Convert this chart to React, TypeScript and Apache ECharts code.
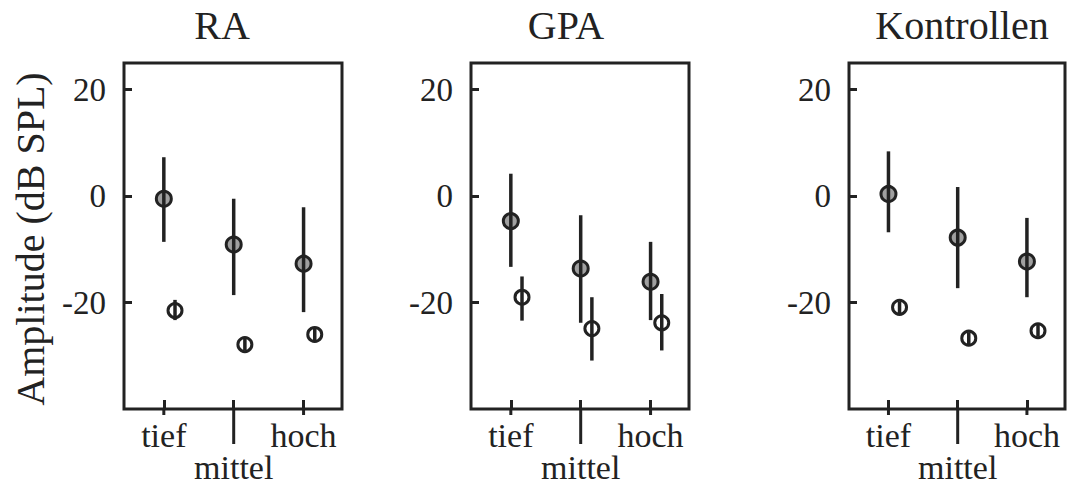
import React, { useEffect, useRef } from "react";
import * as echarts from "echarts";

// ---- data ----
const panelTitles = ["RA", "GPA", "Kontrollen"];
const categories = ["tief", "mittel", "hoch"];
const catPos = [1, 2, 3];
const labelOrder = [2, 1, 3]; // mittel first so min/max label handling keeps all three
const yTicks = [-20, 0, 20];
const yLabelText = "Amplitude (dB SPL)";

// filled (gray) markers: mean, lower, upper
const filledMean = [
  [-0.5, -9.1, -12.7],
  [-4.7, -13.6, -16.1],
  [0.4, -7.8, -12.3],
];
const filledLo = [
  [-8.6, -18.6, -21.8],
  [-13.3, -23.8, -23.3],
  [-6.8, -17.3, -19.0],
];
const filledHi = [
  [7.3, -0.5, -2.1],
  [4.2, -3.6, -8.6],
  [8.4, 1.7, -4.1],
];
// open markers: mean, lower, upper
const openMean = [
  [-21.5, -27.9, -26.0],
  [-19.0, -24.9, -23.8],
  [-20.9, -26.7, -25.3],
];
const openLo = [
  [-23.3, -29.0, -27.1],
  [-23.4, -30.9, -29.0],
  [-22.0, -27.8, -26.4],
];
const openHi = [
  [-19.5, -26.8, -24.9],
  [-15.1, -19.0, -18.4],
  [-19.8, -25.6, -24.2],
];

// ---- layout / style ----
const Y_MIN = -40;
const Y_MAX = 25;
const X_MIN = 0.43;
const X_MAX = 3.55;
const OPEN_OFFSET = 0.16;
const STUB_LEN = [6, 35, 6];
const INK = "#222222";
const GRAY = "#a0a0a0";
const FONT = "'Liberation Serif', 'Times New Roman', serif";
const grids = [
  { left: 124, top: 63, width: 218, height: 346 },
  { left: 471, top: 63, width: 218, height: 346 },
  { left: 849, top: 63, width: 216, height: 346 },
];
const titleX = [222, 566, 962];

export default function App() {
  const ref = useRef<HTMLDivElement>(null);

  useEffect(() => {
    document.body.style.margin = "0";
    if (!ref.current) return;
    const chart = echarts.init(ref.current, undefined, { renderer: "svg" });

    const xAxis: any[] = [];
    const yAxis: any[] = [];
    const series: any[] = [];

    grids.forEach((g, k) => {
      xAxis.push({
        type: "value",
        gridIndex: k,
        min: X_MIN,
        max: X_MAX,
        position: "bottom",
        axisLine: { show: false, onZero: false },
        splitLine: { show: false },
        axisTick: {
          show: true,
          inside: true,
          length: 9,
          customValues: catPos,
          lineStyle: { color: INK, width: 3 },
        },
        axisLabel: {
          show: true,
          customValues: labelOrder,
          showMinLabel: true,
          showMaxLabel: true,
          hideOverlap: false,
          margin: 10,
          fontSize: 34,
          lineHeight: 32,
          fontFamily: FONT,
          color: INK,
          formatter: (v: number) => {
            const i = catPos.indexOf(Math.round(v));
            const t = categories[i] ?? "";
            return i === 1 ? "\n" + t : t;
          },
        },
      });
      yAxis.push({
        type: "value",
        gridIndex: k,
        min: Y_MIN,
        max: Y_MAX,
        axisLine: { show: false, onZero: false },
        splitLine: { show: false },
        axisTick: {
          show: true,
          inside: true,
          length: 8,
          customValues: yTicks,
          lineStyle: { color: INK, width: 3 },
        },
        axisLabel: {
          show: true,
          customValues: yTicks,
          showMinLabel: true,
          showMaxLabel: true,
          margin: 18,
          fontSize: 33,
          fontFamily: FONT,
          color: INK,
        },
      });

      const errData: number[][] = [];
      catPos.forEach((x, i) => {
        errData.push([x, filledLo[k][i], filledHi[k][i]]);
        errData.push([x + OPEN_OFFSET, openLo[k][i], openHi[k][i]]);
      });

      series.push({
        type: "scatter",
        xAxisIndex: k,
        yAxisIndex: k,
        symbol: "circle",
        symbolSize: 15,
        z: 2,
        itemStyle: { color: GRAY, borderColor: INK, borderWidth: 3, opacity: 1 },
        data: catPos.map((x, i) => [x, filledMean[k][i]]),
      });
      series.push({
        type: "scatter",
        xAxisIndex: k,
        yAxisIndex: k,
        symbol: "circle",
        symbolSize: 14,
        z: 2,
        itemStyle: { color: "#ffffff", borderColor: INK, borderWidth: 3, opacity: 1 },
        data: catPos.map((x, i) => [x + OPEN_OFFSET, openMean[k][i]]),
      });
      series.push({
        type: "custom",
        xAxisIndex: k,
        yAxisIndex: k,
        z: 3,
        encode: { x: 0, y: [1, 2] },
        data: errData,
        renderItem: (_p: any, api: any) => {
          const x = api.value(0);
          const a = api.coord([x, api.value(1)]);
          const b = api.coord([x, api.value(2)]);
          return {
            type: "line",
            shape: { x1: a[0], y1: a[1], x2: b[0], y2: b[1] },
            style: { stroke: INK, lineWidth: 3.5 },
          };
        },
      });
      series.push({
        type: "custom",
        xAxisIndex: k,
        yAxisIndex: k,
        z: 3,
        clip: false,
        silent: true,
        encode: { x: 0, y: 1 },
        data: catPos.map((x) => [x, Y_MIN]),
        renderItem: (p: any, api: any) => {
          const pt = api.coord([api.value(0), api.value(1)]);
          const len = STUB_LEN[p.dataIndex];
          return {
            type: "line",
            shape: { x1: pt[0], y1: pt[1], x2: pt[0], y2: pt[1] + len },
            style: { stroke: INK, lineWidth: 3 },
          };
        },
      });
    });

    const graphic: any[] = panelTitles.map((t, k) => ({
      type: "text",
      x: titleX[k],
      y: 25,
      style: {
        text: t,
        font: `40px ${FONT}`,
        fill: INK,
        textAlign: "center",
        textVerticalAlign: "middle",
        align: "center",
        verticalAlign: "middle",
      },
    }));
    graphic.push({
      type: "text",
      x: 30,
      y: 239,
      rotation: Math.PI / 2,
      style: {
        text: yLabelText,
        font: `40px ${FONT}`,
        fill: INK,
        textAlign: "center",
        textVerticalAlign: "middle",
        align: "center",
        verticalAlign: "middle",
      },
    });

    chart.setOption({
      animation: false,
      backgroundColor: "#ffffff",
      grid: grids.map((g) => ({
        ...g,
        show: true,
        borderColor: INK,
        borderWidth: 3,
        backgroundColor: "transparent",
        containLabel: false,
        outerBoundsMode: "none",
      })),
      xAxis,
      yAxis,
      series,
      graphic,
    });

    return () => chart.dispose();
  }, []);

  return <div ref={ref} style={{ width: 1072, height: 484 }} />;
}
